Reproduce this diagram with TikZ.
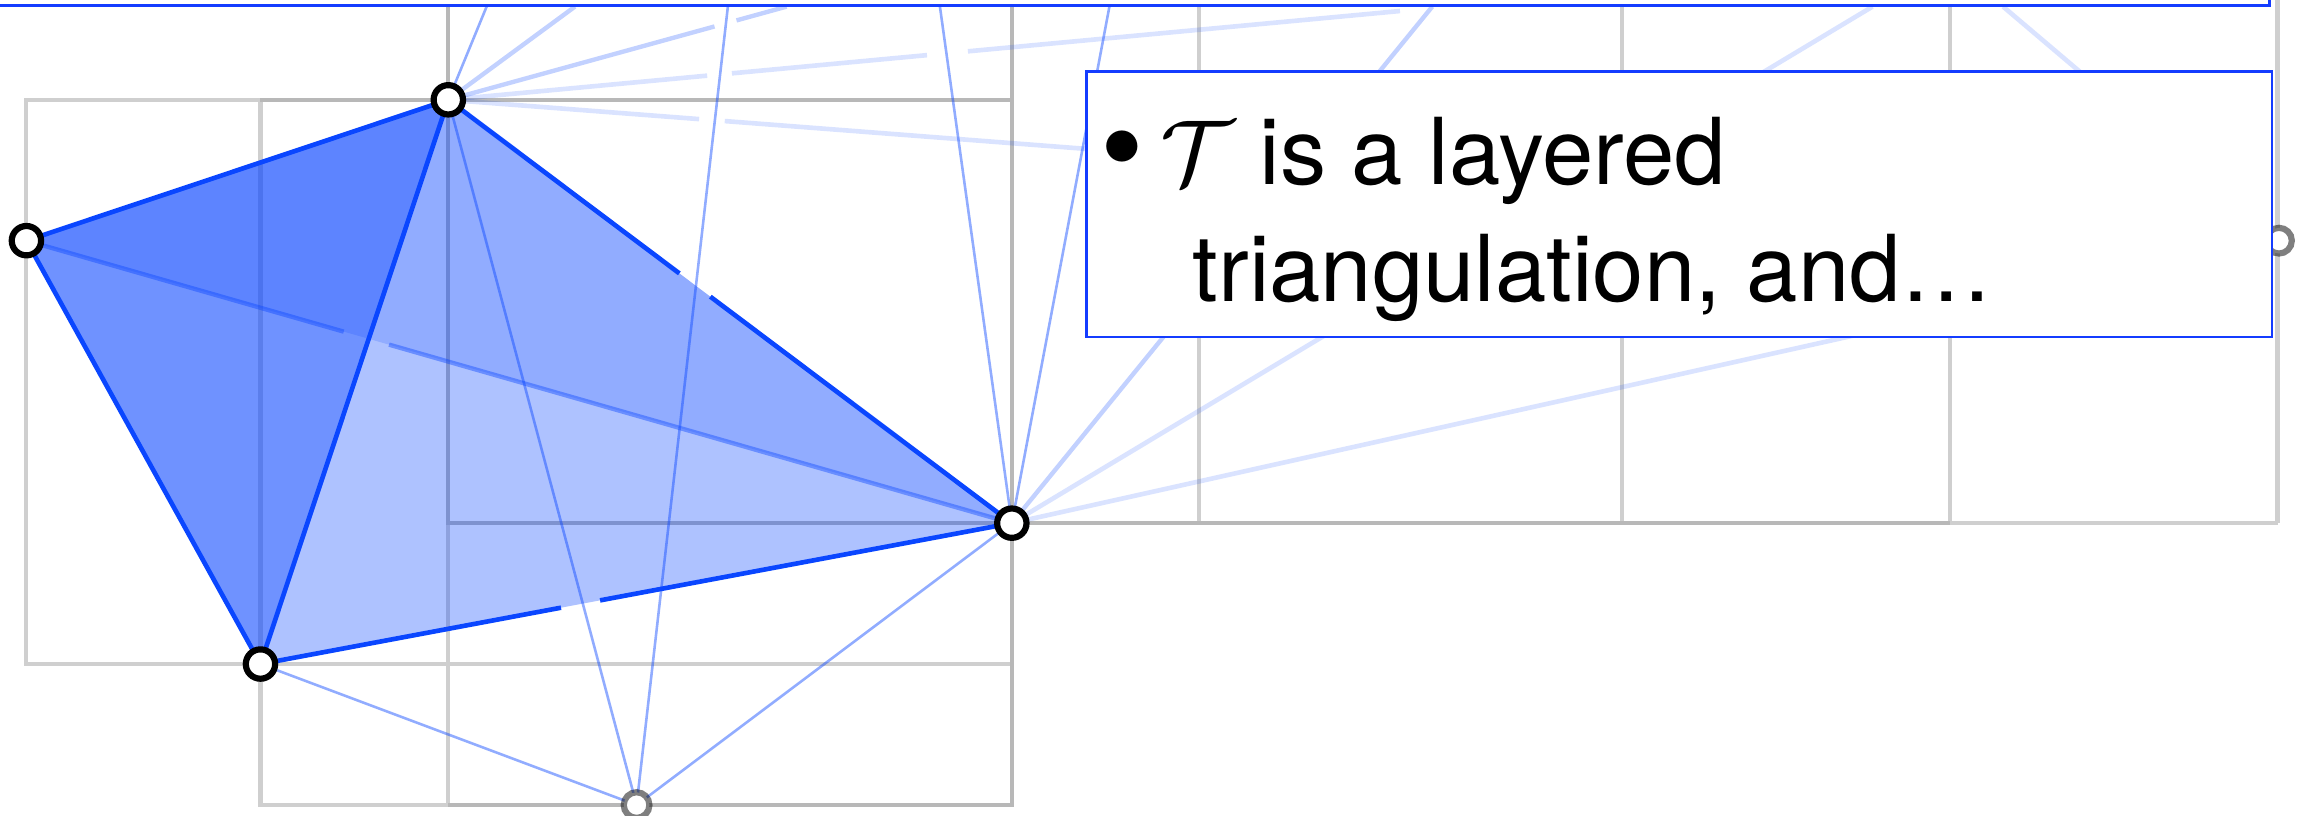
\documentclass[tikz,border=0pt]{standalone}
\usepackage{fix-cm}
\usepackage{fontspec}
\setmainfont{TeX Gyre Heros}
\usetikzlibrary{calc}

\definecolor{edgeblue}{RGB}{10,70,255}
\definecolor{boxblue}{RGB}{20,60,255}

\begin{document}
\begin{tikzpicture}[x=0.1mm, y=-0.1mm,
    gridline/.style={draw=black!19, line width=0.8pt},
    darkgrid/.style={draw=black!28, line width=0.8pt},
    thinline/.style={draw=edgeblue, draw opacity=0.45, line width=0.5pt},
    faintline/.style={draw=edgeblue, draw opacity=0.25, line width=0.85pt},
    ghostline/.style={draw=edgeblue, draw opacity=0.15, line width=0.9pt},
    hulledge/.style={draw=edgeblue, line width=0.9pt},
    vertex/.style={circle, draw=black, fill=white, line width=1.2pt, minimum size=2mm, inner sep=0pt},
    ghostvertex/.style={vertex, draw opacity=0.5, minimum size=1.75mm},
    textbox/.style={draw=boxblue, fill=white, line width=0.5pt, inner sep=0pt},
    bodytext/.style={anchor=base west, inner sep=0pt, font=\fontsize{17.9pt}{22pt}\selectfont}]

      \useasboundingbox (0,0) rectangle (1568,556);
      \clip (0,0) rectangle (1568,556);

      % --- Vertices of the layered triangulation ---
      \coordinate (A) at (305.5,68);
      \coordinate (B) at (18,164);
      \coordinate (C) at (177.5,452.5);
      \coordinate (D) at (689.5,356.5);
      \coordinate (E) at (433.8,548.6);
      \coordinate (F) at (1553,164);

      % --- Ends of edges cut by the top box ---
      \coordinate (t1) at (331.6,4.5);
      \coordinate (t2) at (391.8,4.5);
      \coordinate (t3) at (536,4.5);
      \coordinate (t4) at (954,7.5);
      \coordinate (t5) at (496,4.5);
      \coordinate (t6) at (640.5,4.5);
      \coordinate (t7) at (756,4.5);
      \coordinate (t8) at (976,4.5);
      \coordinate (t9) at (1276,4.5);
      \coordinate (t10) at (1365,4.5);

      % --- Gray layer cells ---
      \draw[gridline] (177.5,68) -- (18,68) -- (18,452.5) -- (689.5,452.5);
      \draw[gridline] (177.5,68) -- (177.5,548.6) -- (305.5,548.6);
      \draw[gridline] (305.5,356.5) -- (305.5,548.6);
      \foreach \x in {817, 1105, 1329, 1552} {
        \draw[gridline] (\x,-20) -- (\x,356.5);
      }
      \draw[gridline] (1329,356.5) -- (1552,356.5);
      \draw[darkgrid] (177.5,68) -- (689.5,68);
      \draw[darkgrid] (305.5,-20) -- (305.5,356.5) -- (1329,356.5);
      \draw[darkgrid] (689.5,-20) -- (689.5,548.6) -- (305.5,548.6);

      % --- Far (ghost) edges ---
      \draw[ghostline] (A) -- ($(A)!0.137!(F)$) ($(A)!0.151!(F)$) -- (F);
      \draw[ghostline] (A) -- ($(A)!0.272!(t4)$) ($(A)!0.298!(t4)$) -- ($(A)!0.503!(t4)$) ($(A)!0.546!(t4)$) -- (t4);
      \draw[ghostline] (D) -- (F);
      \draw[ghostline] (D) -- (t9);
      \draw[ghostline] (F) -- (t10);

      % --- Faint edges ---
      \draw[faintline] (A) -- ($(A)!0.787!(t3)$) ($(A)!0.852!(t3)$) -- (t3);
      \draw[faintline] (A) -- (t2);
      \draw[faintline] (D) -- (t8);

      % --- Thin edges ---
      \draw[thinline] (A) -- (t1);
      \draw[thinline] (A) -- (E);
      \draw[thinline] (E) -- (t5);
      \draw[thinline] (E) -- (C);
      \draw[thinline] (E) -- (D);
      \draw[thinline] (D) -- (t6);
      \draw[thinline] (D) -- (t7);

      % --- Shaded triangles ---
      \fill[edgeblue, fill opacity=0.59] (A) -- (B) -- (C) -- cycle;
      \fill[edgeblue, fill opacity=0.33] (A) -- (C) -- (D) -- cycle;
      \fill[edgeblue, fill opacity=0.18] (A) -- (B) -- (D) -- cycle;

      % --- Hull edges ---
      \draw[edgeblue, draw opacity=0.42, line width=0.85pt] (B) -- ($(B)!0.322!(D)$) ($(B)!0.368!(D)$) -- (D);
      \draw[hulledge] (A) -- (B) -- (C) -- (A);
      \draw[hulledge] (A) -- ($(A)!0.41!(D)$) ($(A)!0.465!(D)$) -- (D);
      \draw[hulledge] (C) -- ($(C)!0.40!(D)$) ($(C)!0.452!(D)$) -- (D);

      % --- Vertex markers ---
      \node[ghostvertex] (vE) at (E) {};
      \node[ghostvertex] (vF) at (F) {};
      \foreach \v in {A, B, C, D} {
        \node[vertex] (v\v) at (\v) {};
      }

      % --- Boxes and text ---
      \node[textbox, anchor=south east, minimum width=170mm, minimum height=8mm] (titlebox) at (1547.3,4.5) {};
      \node[textbox, anchor=north west, minimum width=80.79mm, minimum height=18.11mm] (notebox) at (739.4,47.7) {};

      \node[bodytext] (dot) at (749,129) {\scalebox{1.35}{\textbullet}};
      \node[bodytext] (lineone) at (790,126) {$\mathcal{T}$ is a layered};
      \node[bodytext] (linetwo) at (812,205.6) {triangulation, and…};

    \end{tikzpicture}
\end{document}
